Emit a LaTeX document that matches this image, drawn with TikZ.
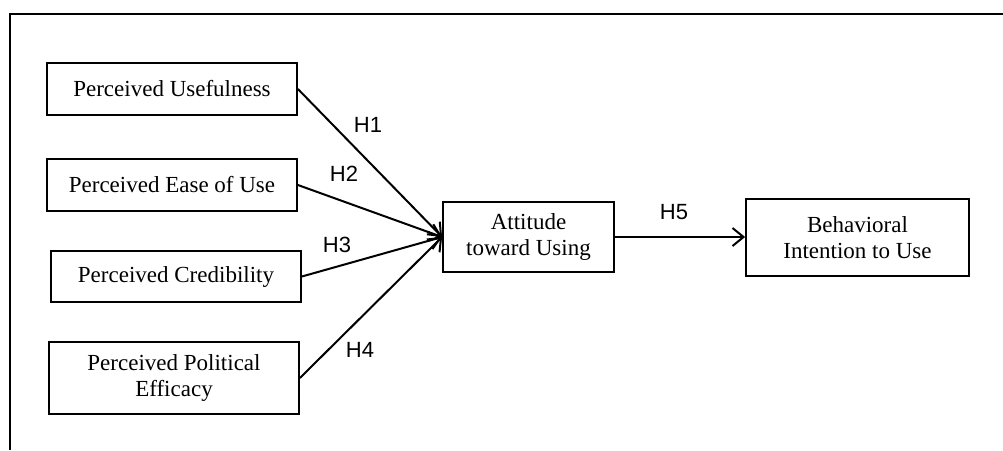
\documentclass[tikz,border=0pt]{standalone}
\usepackage{fontspec}
\setmainfont{Liberation Serif}
\newfontfamily\labelfont{Liberation Sans}
\usetikzlibrary{arrows.meta}
\begin{document}
\begin{tikzpicture}[x=1pt,y=-1pt,
  box/.style={draw, line width=1.8pt, rectangle, align=center, inner sep=0pt,
    font=\fontsize{23}{26}\selectfont},
  link/.style={line width=2pt, -{Straight Barb[length=11pt,width=18pt,line width=2pt]}},
  hlabel/.style={font=\labelfont\fontsize{22}{24}\selectfont, inner sep=0pt}]
\useasboundingbox (0,0) rectangle (1003,450);
% outer frame (partially visible)
\draw[line width=1.5pt] (10,450) -- (10,14) -- (1003,14);
% nodes
\node[box, minimum width=250pt, minimum height=52pt] (pu) at (172,89) {Perceived Usefulness};
\node[box, minimum width=250pt, minimum height=52pt] (peou) at (172,185) {Perceived Ease of Use};
\node[box, minimum width=250pt, minimum height=51pt] (pc) at (176,276.5) {Perceived Credibility};
\node[box, minimum width=250pt, minimum height=72pt] (ppe) at (174,378) {Perceived Political\\Efficacy};
\node[box, minimum width=171pt, minimum height=70pt] (atu) at (528.5,237) {Attitude\\toward Using};
\node[box, minimum width=223pt, minimum height=77pt] (biu) at (857.5,237.5) {Behavioral\\Intention to Use};
% connectors
\draw[link] (pu.east) -- (atu.west);
\draw[link] (peou.east) -- (atu.west);
\draw[link] (pc.east) -- (atu.west);
\draw[link] (ppe.east) -- (atu.west);
\draw[link] (atu.east) -- (atu.east -| biu.west);
% labels
\node[hlabel] (h1) at (368,125) {H1};
\node[hlabel] (h2) at (344,174) {H2};
\node[hlabel] (h3) at (337,245) {H3};
\node[hlabel] (h4) at (360,350) {H4};
\node[hlabel] (h5) at (674,212) {H5};
\end{tikzpicture}
\end{document}
